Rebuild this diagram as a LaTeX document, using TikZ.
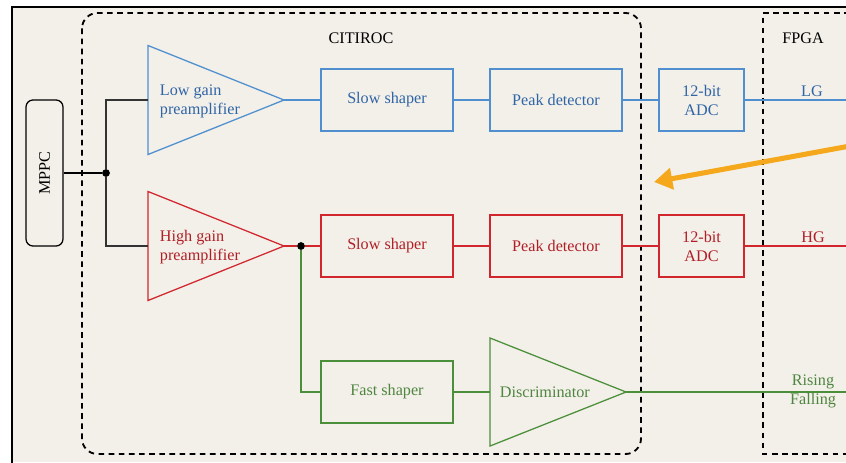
\documentclass[tikz,border=0pt]{standalone}
\usepackage{fontspec}
\setmainfont{Liberation Serif}
\usepackage{tikz}
\usepackage{xcolor}
\usetikzlibrary{arrows.meta,positioning,shapes.geometric}
\definecolor{paper}{HTML}{F3F0E9}
\definecolor{lgline}{HTML}{4F8FCF}
\definecolor{lgtext}{HTML}{2F64A6}
\definecolor{hgline}{HTML}{D2262F}
\definecolor{hgtext}{HTML}{B01E26}
\definecolor{trline}{HTML}{4C8F3A}
\definecolor{trtext}{HTML}{4F8540}
\definecolor{marker}{HTML}{F5A81C}
\tikzset{
    every node/.style={font=\fontsize{11.5}{13.5}\selectfont},
    block/.style={rectangle, draw, line width=0.9pt, minimum height=1.55cm, inner sep=0pt, align=center},
    amp/.style={isosceles triangle, isosceles triangle stretches, shape border rotate=0, draw, line width=0.9pt, minimum width=2.725cm, minimum height=3.4cm, inner sep=0pt, outer sep=0pt},
    lowgain/.style={draw=lgline, text=lgtext},
    highgain/.style={draw=hgline, text=hgtext},
    trigger/.style={draw=trline, text=trtext},
    boundary/.style={draw=black, line width=1.3pt, dash pattern=on 4pt off 3.2pt},
    splitdot/.style={circle, fill=black, minimum size=5.5pt, inner sep=0pt}
}

\begin{document}
\begin{tikzpicture}[x=0.025cm, y=-0.025cm]
    \useasboundingbox (0,0) rectangle (846,462);
    \fill[white] (0,0) rectangle (846,462);
    \fill[paper] (12,7) rectangle (846,462);
    \draw[line width=1.5pt] (12,470) -- (12,7) -- (850,7);
    \draw[boundary, rounded corners=11pt] (82,13) rectangle (641,454);
    \draw[boundary] (880,13) -- (763,13) -- (763,454) -- (880,454);
    \node at (361,38) {CITIROC};
    \node at (803,38) {FPGA};

    \node[draw, rounded corners=5pt, line width=0.9pt, minimum width=0.925cm, minimum height=3.65cm] (mppc) at (44.5,173) {};
    \node[rotate=90] at (mppc.center) {MPPC};
    \node[splitdot] (split) at (106,173) {};

    \node[amp, lowgain, anchor=lower side] (lga) at (148,100) {};
    \node[lgtext, anchor=west, align=left] (lgatext) at (155,101) {Low gain\\preamplifier};
    \node[block, lowgain, minimum width=3.3cm] (lgslow) at (387,100) {Slow shaper};
    \node[block, lowgain, minimum width=3.3cm] (lgpeak) at (556,100) {Peak detector};
    \node[block, lowgain, minimum width=2.125cm] (lgadc) at (701.5,100) {12-bit\\ADC};
    \coordinate (lgout) at (846,100);
    \node[lgtext] at (812,91) {LG};

    \node[amp, highgain, anchor=lower side] (hga) at (148,246) {};
    \node[hgtext, anchor=west, align=left] (hgatext) at (155,247) {High gain\\preamplifier};
    \node[splitdot] (hgsplit) at (301,246) {};
    \node[block, highgain, minimum width=3.3cm] (hgslow) at (387,246) {Slow shaper};
    \node[block, highgain, minimum width=3.3cm] (hgpeak) at (556,246) {Peak detector};
    \node[block, highgain, minimum width=2.125cm] (hgadc) at (701.5,246) {12-bit\\ADC};
    \coordinate (hgout) at (846,246);
    \node[hgtext] at (813,237) {HG};

    \node[block, trigger, minimum width=3.3cm] (fast) at (387,392) {Fast shaper};
    \node[amp, trigger, minimum width=2.7cm, anchor=lower side] (disc) at (490,392) {};
    \node[trtext, anchor=west] (disctext) at (495,392) {Discriminator};
    \coordinate (trout) at (846,392);
    \node[trtext] at (813,382) {Rising};
    \node[trtext] at (813,401) {Falling};

    \draw[line width=1.3pt] (mppc.east |- split) -- (split);
    \draw[line width=0.9pt, black!80] (split) |- (lga.lower side);
    \draw[line width=0.9pt, black!80] (split) |- (hga.lower side);

    \draw[lgline, line width=0.9pt] (lga.apex) -- (lgslow);
    \draw[lgline, line width=0.9pt] (lgslow) -- (lgpeak);
    \draw[lgline, line width=0.9pt] (lgpeak) -- (lgadc);
    \draw[lgline, line width=0.9pt] (lgadc) -- (lgout);

    \draw[hgline, line width=0.9pt] (hga.apex) -- (hgsplit) -- (hgslow);
    \draw[hgline, line width=0.9pt] (hgslow) -- (hgpeak);
    \draw[hgline, line width=0.9pt] (hgpeak) -- (hgadc);
    \draw[hgline, line width=0.9pt] (hgadc) -- (hgout);

    \draw[trline, line width=0.9pt] (hgsplit) |- (fast);
    \draw[trline, line width=0.9pt] (fast) -- (disc.lower side);
    \draw[trline, line width=0.9pt] (disc.apex) -- (trout);

    \coordinate (pointfrom) at (850,146);
    \coordinate (pointto) at (654,182);
    \draw[marker, line width=3.6pt, -{Triangle[length=13pt, width=15pt]}] (pointfrom) -- (pointto);
\end{tikzpicture}
\end{document}
